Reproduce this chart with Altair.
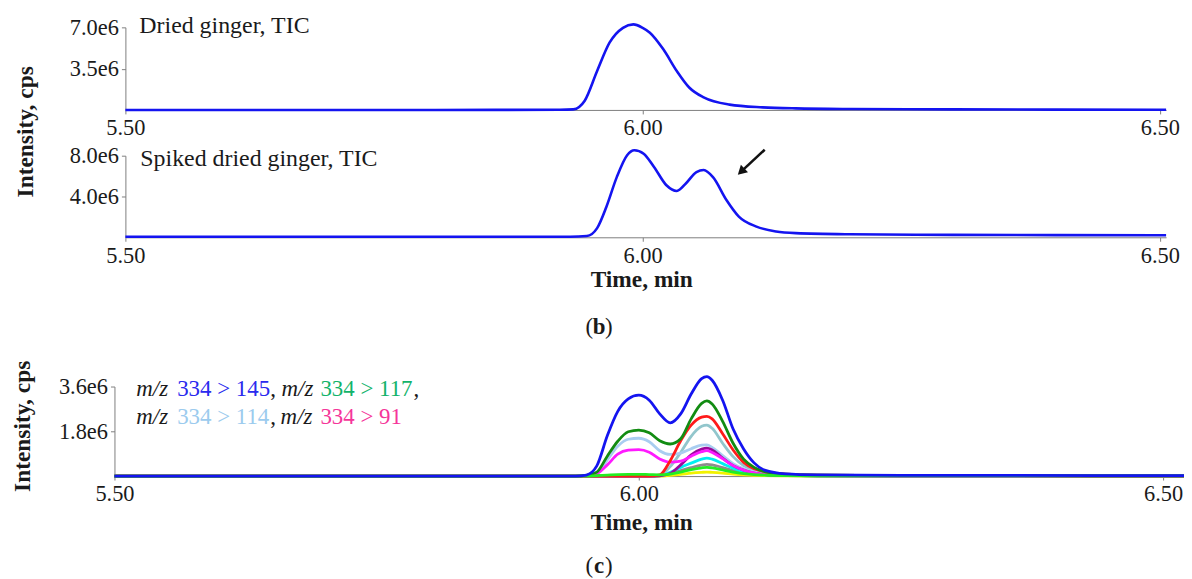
import altair as alt
import pandas as pd

# ---------------- data (intensity in units of 1e6 cps, time in min) ----------------
# (b) upper: Dried ginger, TIC
t_dried = [5.50, 5.80, 5.92, 5.933, 5.944, 5.956, 5.968, 5.981, 5.991, 6.000, 6.007,
           6.020, 6.033, 6.045, 6.059, 6.084, 6.116, 6.148, 6.20, 6.30, 6.40, 6.506]
i_dried = [0.0, 0.0, 0.01, 0.05, 0.78, 3.3, 5.7, 6.96, 7.25, 6.96, 6.55,
           5.14, 3.3, 1.9, 1.06, 0.45, 0.22, 0.13, 0.08, 0.05, 0.03, 0.02]

# (b) lower: Spiked dried ginger, TIC
t_spiked = [5.50, 5.80, 5.93, 5.946, 5.956, 5.965, 5.975, 5.985, 5.992, 6.001, 6.011,
            6.023, 6.033, 6.042, 6.052, 6.059, 6.068, 6.081, 6.093, 6.110, 6.129,
            6.148, 6.20, 6.30, 6.40, 6.506]
i_spiked = [0.05, 0.05, 0.06, 0.12, 0.9, 3.0, 5.9, 8.05, 8.54, 8.2, 6.9,
            5.1, 4.54, 5.3, 6.4, 6.6, 5.9, 3.66, 2.03, 1.05, 0.57,
            0.41, 0.3, 0.24, 0.21, 0.2]

# arrow annotation in panel (b) lower (tail -> head)
arrow_t = [6.118, 6.0952]
arrow_i = [8.59, 6.44]

# (c) MRM transitions
t_mrm = [5.50, 5.94, 5.95, 5.96, 5.97, 5.98, 5.99, 6.00, 6.01, 6.02, 6.03, 6.04, 6.05,
         6.06, 6.065, 6.07, 6.08, 6.09, 6.10, 6.11, 6.12, 6.14, 6.17, 6.25, 6.52]
mrm_grey = [0, 0, 0, 0, 0, 0, 0, 0, 0, 0.01, 0.1, 0.22, 0.34, 0.44, 0.47, 0.45, 0.34,
            0.22, 0.13, 0.07, 0.04, 0.02, 0.01, 0, 0]
mrm_yellow = [0, 0, 0, 0, 0, 0, 0, 0, 0, 0, 0.03, 0.07, 0.12, 0.15, 0.16, 0.15, 0.12,
              0.08, 0.05, 0.03, 0.02, 0.01, 0, 0, 0]
mrm_cyan = [0, 0, 0, 0, 0, 0, 0, 0, 0, 0.02, 0.15, 0.35, 0.52, 0.68, 0.72, 0.68, 0.5,
            0.32, 0.18, 0.1, 0.06, 0.03, 0.01, 0, 0]
mrm_teal = [0, 0, 0, 0, 0, 0, 0, 0, 0, 0.03, 0.38, 0.95, 1.6, 2.0, 2.05, 1.92, 1.32,
            0.78, 0.42, 0.24, 0.15, 0.07, 0.04, 0.02, 0.01]
mrm_114 = [0, 0, 0.02, 0.1, 0.65, 1.2, 1.48, 1.52, 1.38, 1.02, 0.87, 0.92, 1.1, 1.24,
           1.25, 1.15, 0.82, 0.5, 0.29, 0.17, 0.1, 0.05, 0.03, 0.02, 0.01]
mrm_purple = [0, 0, 0, 0, 0, 0, 0, 0, 0, 0.01, 0.1, 0.45, 0.85, 1.08, 1.12, 1.05, 0.72,
              0.42, 0.24, 0.12, 0.06, 0.03, 0.01, 0, 0]
mrm_91 = [0, 0, 0.01, 0.1, 0.45, 0.88, 1.04, 1.06, 0.96, 0.69, 0.56, 0.6, 0.8, 0.98,
          1.02, 0.95, 0.7, 0.42, 0.24, 0.13, 0.07, 0.04, 0.02, 0.01, 0.01]
mrm_red = [0, 0, 0, 0, 0, 0, 0, 0, 0, 0.05, 0.62, 1.42, 2.05, 2.37, 2.4, 2.3, 1.7,
           1.05, 0.55, 0.3, 0.18, 0.08, 0.04, 0.02, 0.01]
mrm_117 = [0, 0, 0.03, 0.16, 0.8, 1.4, 1.78, 1.85, 1.74, 1.42, 1.29, 1.5, 2.3, 2.92,
           3.02, 2.9, 2.2, 1.32, 0.68, 0.35, 0.18, 0.08, 0.04, 0.02, 0.01]
mrm_lime = [0, 0, 0, 0.02, 0.04, 0.06, 0.07, 0.07, 0.06, 0.05, 0.08, 0.16, 0.26, 0.33,
            0.35, 0.33, 0.25, 0.16, 0.1, 0.06, 0.04, 0.02, 0.01, 0.01, 0.01]
mrm_145 = [0, 0, 0.04, 0.41, 1.62, 2.6, 3.1, 3.25, 3.05, 2.5, 2.14, 2.5, 3.3, 3.92,
           4.0, 3.85, 3.05, 1.89, 1.09, 0.53, 0.24, 0.09, 0.05, 0.03, 0.02]

# drawing order (first = bottom) and colours
mrm_series = [
    ("grey", mrm_grey, "#8c8c8c"),
    ("yellow", mrm_yellow, "#f2f200"),
    ("cyan", mrm_cyan, "#00f0f0"),
    ("teal", mrm_teal, "#92c6cc"),
    ("334>114", mrm_114, "#a9cdf0"),
    ("purple", mrm_purple, "#9a0a9a"),
    ("334>91", mrm_91, "#ff1aff"),
    ("red", mrm_red, "#ff1a1a"),
    ("334>117", mrm_117, "#128c12"),
    ("lime", mrm_lime, "#22ee22"),
    ("334>145", mrm_145, "#1414f0"),
]

x_ticks = [5.5, 6.0, 6.5]
y_ticks_dried = [3.5, 7.0]
y_ticks_spiked = [4.0, 8.0]
y_ticks_mrm = [1.8, 3.6]

# ---------------- layout / style ----------------
W, H = 1182, 571
FONT = "Liberation Serif"
INK = "#1a1a1a"
AX = "#7f7f7f"
BLUE = "#1414f0"
TICK_FS = 22.5

def x_axis(ypos):
    return alt.Axis(orient="bottom", offset=ypos - H, values=x_ticks, format=".2f",
                    title=None, labelFont=FONT, labelFontSize=TICK_FS, labelColor=INK,
                    domainColor=AX, tickColor=AX, tickSize=4, labelPadding=3,
                    grid=False, labelFlush=False, labelOverlap=False)

def y_axis(xpos, vals):
    return alt.Axis(orient="left", offset=-xpos, values=vals,
                    labelExpr="format(datum.value, '.1f') + 'e6'",
                    title=None, labelFont=FONT, labelFontSize=TICK_FS, labelColor=INK,
                    domainColor=AX, tickColor=AX, tickSize=4, labelPadding=3,
                    grid=False, labelOverlap=False)

XB1 = alt.X("t:Q", scale=alt.Scale(domain=[5.5, 6.506], range=[118, 1164], nice=False, zero=False),
            axis=x_axis(101))
XB2 = alt.X("t:Q", scale=alt.Scale(domain=[5.5, 6.506], range=[118, 1164], nice=False, zero=False),
            axis=x_axis(229))
Y1 = alt.Y("v:Q", scale=alt.Scale(domain=[0, 7.0], range=[101, 18], nice=False),
           axis=y_axis(118, y_ticks_dried))
Y2 = alt.Y("v:Q", scale=alt.Scale(domain=[0, 8.0], range=[229, 147], nice=False),
           axis=y_axis(118, y_ticks_spiked))
X3 = alt.X("t:Q", scale=alt.Scale(domain=[5.5, 6.52], range=[107, 1182], nice=False, zero=False),
           axis=x_axis(469))
Y3 = alt.Y("v:Q", scale=alt.Scale(domain=[0, 3.6], range=[469, 379], nice=False),
           axis=y_axis(107, y_ticks_mrm))

df_dried = pd.DataFrame({"t": t_dried, "v": i_dried})
df_spiked = pd.DataFrame({"t": t_spiked, "v": i_spiked})
df_arrow = pd.DataFrame({"t": [arrow_t[0]], "v": [arrow_i[0]],
                         "t2": [arrow_t[1]], "v2": [arrow_i[1]]})
df_head = pd.DataFrame({"t": [arrow_t[1]], "v": [arrow_i[1]]})

rows = []
for name, vals, _c in mrm_series:
    for t, v in zip(t_mrm, vals):
        rows.append({"s": name, "t": t, "v": v})
df_mrm = pd.DataFrame(rows)

panel1 = alt.Chart(df_dried).mark_line(color=BLUE, strokeWidth=2.6, interpolate="monotone").encode(
    x=XB1, y=Y1)

line2 = alt.Chart(df_spiked).mark_line(color=BLUE, strokeWidth=2.6, interpolate="monotone").encode(
    x=XB2, y=Y2)
arrow = alt.Chart(df_arrow).mark_rule(color="#111111", strokeWidth=2.6).encode(
    x=XB2, y=Y2, x2="t2:Q", y2="v2:Q")
head = alt.Chart(df_head).mark_point(shape="triangle-up", angle=227, filled=True, size=110,
                                     color="#111111", opacity=1).encode(x=XB2, y=Y2)
panel2 = alt.layer(line2, arrow, head)

base3 = alt.Chart(df_mrm)
mrm_layers = [
    base3.transform_filter(alt.datum.s == name)
    .mark_line(color=col, strokeWidth=2.8, interpolate="monotone")
    .encode(x=X3, y=Y3)
    for name, _v, col in mrm_series
]
panel3 = alt.layer(*mrm_layers)

one = pd.DataFrame({"k": [0]})

def label(txt, x, y, size=23, color=INK, align="left", weight="normal", style="normal",
          angle=0, baseline="alphabetic"):
    return alt.Chart(one).mark_text(text=txt, font=FONT, fontSize=size, color=color, align=align,
                                    baseline=baseline, fontWeight=weight, fontStyle=style,
                                    angle=angle).encode(x=alt.value(x), y=alt.value(y))

texts = [
    label("Dried ginger, TIC", 132, 24, size=24),
    label("Spiked dried ginger, TIC", 133, 157, size=24),
    label("Intensity, cps", 25, 123, size=23.5, weight="bold", align="center", angle=270),
    label("Time, min", 637, 279, size=23.5, weight="bold", align="center"),
    label("(", 588, 326, align="right"),
    label("b", 594, 326, weight="bold", align="center"),
    label(")", 600, 326, align="left"),
    # panel (c)
    label("Intensity, cps", 22, 419, size=23.5, weight="bold", align="center", angle=270),
    label("m/z", 129, 389, style="italic"),
    label("334 > 145", 170, 389, color="#2a2aee"),
    label(",", 263.5, 389),
    label("m/z", 275, 389, style="italic"),
    label("334 > 117", 314, 389, color="#13b36a"),
    label(",", 407.5, 389),
    label("m/z", 129, 417, style="italic"),
    label("334 > 114", 170, 417, color="#9ccbee"),
    label(",", 263.5, 417),
    label("m/z", 274, 417, style="italic"),
    label("334 > 91", 314, 417, color="#f5369a"),
    label("Time, min", 637, 523, size=23.5, weight="bold", align="center"),
    label("(", 588, 566, align="right"),
    label("c", 594, 566, weight="bold", align="center"),
    label(")", 600, 566, align="left"),
]

chart = (
    alt.layer(panel1, panel2, panel3, *texts)
    .resolve_scale(x="independent", y="independent")
    .properties(width=W, height=H, padding=0, autosize=alt.AutoSizeParams(type="none"))
    .configure_view(stroke=None)
)

chart.save("out.html", embed_options={"renderer": "svg", "actions": False})
